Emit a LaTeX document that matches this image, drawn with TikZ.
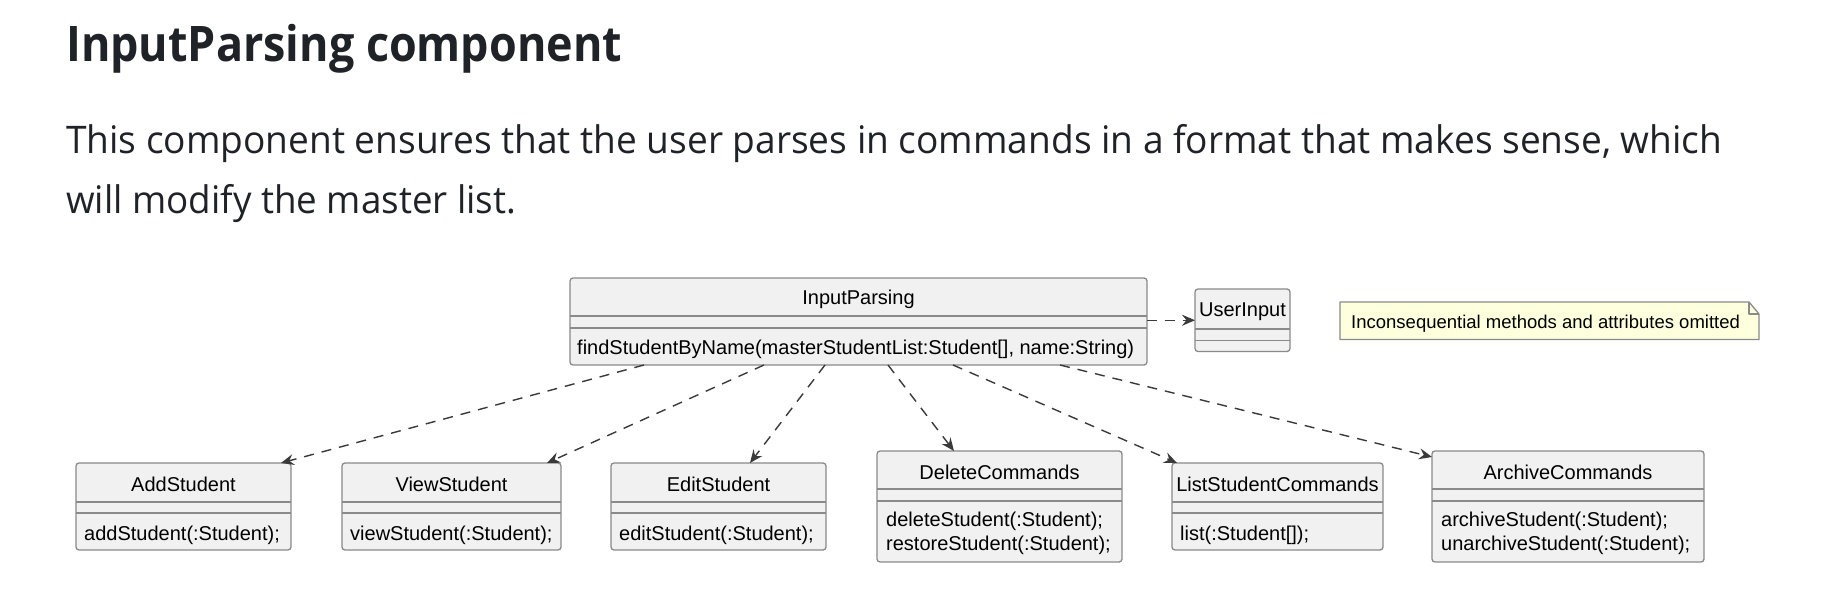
\documentclass[tikz,border=0pt]{standalone}
\usepackage{fontspec}
\setmainfont{Liberation Sans}
\newfontfamily\webfont{Open Sans}
\usetikzlibrary{arrows.meta,calc}
\definecolor{boxfill}{HTML}{F1F1F1}
\definecolor{boxline}{HTML}{8A8A8A}
\definecolor{notefill}{HTML}{FEFFDD}
\definecolor{linkcol}{HTML}{3A3A3A}
\definecolor{textcol}{HTML}{1F2328}
\begin{document}
\begin{tikzpicture}[x=1pt,y=-1pt,
  clsbox/.style={draw=boxline, fill=boxfill, line width=1.3pt, rounded corners=3pt, inner sep=0pt, outer sep=0pt, anchor=north west},
  sepline/.style={draw=boxline, line width=1.3pt},
  umltext/.style={font=\fontsize{20}{22}\selectfont, inner sep=0pt, text=black},
  notetext/.style={font=\fontsize{18.5}{21}\selectfont, inner sep=0pt, text=black},
  dep/.style={draw=linkcol, line width=1.4pt, dash pattern=on 10pt off 8pt, -{Stealth[length=13pt,width=11pt,inset=4.5pt]}},
  webtext/.style={inner sep=0pt, text=textcol, anchor=base west}
]
\fill[white] (0,0) rectangle (1829,612);
\useasboundingbox (0,0) rectangle (1829,612);

% heading and paragraph
\node[webtext] (title) at (66,62) {\resizebox{556pt}{\height}{\webfont\bfseries\fontsize{49}{55}\selectfont InputParsing component}};
\node[webtext] (para1) at (66,154) {\resizebox{1656pt}{\height}{\webfont\fontsize{38}{44}\selectfont This component ensures that the user parses in commands in a format that makes sense, which}};
\node[webtext] (para2) at (66,213.5) {\resizebox{450pt}{\height}{\webfont\fontsize{38}{44}\selectfont will modify the master list.}};

% InputParsing
\node[clsbox, minimum width=577pt, minimum height=87pt] (ip) at (570,278) {};
\draw[sepline] ($(ip.north west)+(0,38)$) -- ($(ip.north east)+(0,38)$);
\draw[sepline] ($(ip.north west)+(0,50)$) -- ($(ip.north east)+(0,50)$);
\node[umltext, anchor=base] (ipT) at ($(ip.north)+(0,26.5)$) {InputParsing};
\node[umltext, anchor=base west] (ipM) at ($(ip.north west)+(7,77)$) {findStudentByName(masterStudentList:Student[], name:String)};

% UserInput
\node[clsbox, minimum width=95pt, minimum height=62.5pt] (ui) at (1195,289) {};
\draw[sepline] ($(ui.north west)+(0,40)$) -- ($(ui.north east)+(0,40)$);
\draw[sepline] ($(ui.north west)+(0,51.5)$) -- ($(ui.north east)+(0,51.5)$);
\node[umltext, anchor=base] (uiT) at ($(ui.north)+(0,28)$) {UserInput};

% note
\node[anchor=north west, minimum width=419pt, minimum height=37.5pt, inner sep=0pt, outer sep=0pt] (note) at (1340,302) {};
\draw[draw=boxline, fill=notefill, line width=1.3pt, line join=round]
  (note.north west) -- ($(note.north east)+(-10,0)$) -- ($(note.north east)+(0,12)$) -- (note.south east) -- (note.south west) -- cycle;
\draw[draw=boxline, line width=1.3pt, line join=round]
  ($(note.north east)+(-10,0)$) -- ($(note.north east)+(-10,12)$) -- ($(note.north east)+(0,12)$);
\node[notetext, anchor=base west] (noteT) at ($(note.north west)+(11,26.3)$) {Inconsequential methods and attributes omitted};

% AddStudent
\node[clsbox, minimum width=215pt, minimum height=87pt] (add) at (76,463) {};
\draw[sepline] ($(add.north west)+(0,39)$) -- ($(add.north east)+(0,39)$);
\draw[sepline] ($(add.north west)+(0,50)$) -- ($(add.north east)+(0,50)$);
\node[umltext, anchor=base] (addT) at ($(add.north)+(0,28.5)$) {AddStudent};
\node[umltext, anchor=base west] (addM) at ($(add.north west)+(8,77)$) {addStudent(:Student);};

% ViewStudent
\node[clsbox, minimum width=219pt, minimum height=87pt] (view) at (342,463) {};
\draw[sepline] ($(view.north west)+(0,39)$) -- ($(view.north east)+(0,39)$);
\draw[sepline] ($(view.north west)+(0,50)$) -- ($(view.north east)+(0,50)$);
\node[umltext, anchor=base] (viewT) at ($(view.north)+(0,28.5)$) {ViewStudent};
\node[umltext, anchor=base west] (viewM) at ($(view.north west)+(8,77)$) {viewStudent(:Student);};

% EditStudent
\node[clsbox, minimum width=215pt, minimum height=87pt] (edit) at (611,463) {};
\draw[sepline] ($(edit.north west)+(0,39)$) -- ($(edit.north east)+(0,39)$);
\draw[sepline] ($(edit.north west)+(0,50)$) -- ($(edit.north east)+(0,50)$);
\node[umltext, anchor=base] (editT) at ($(edit.north)+(0,28.5)$) {EditStudent};
\node[umltext, anchor=base west] (editM) at ($(edit.north west)+(8,77)$) {editStudent(:Student);};

% DeleteCommands
\node[clsbox, minimum width=245pt, minimum height=111pt] (del) at (877,451) {};
\draw[sepline] ($(del.north west)+(0,38)$) -- ($(del.north east)+(0,38)$);
\draw[sepline] ($(del.north west)+(0,50)$) -- ($(del.north east)+(0,50)$);
\node[umltext, anchor=base] (delT) at ($(del.north)+(0,28)$) {DeleteCommands};
\node[umltext, anchor=base west] (delM1) at ($(del.north west)+(9,75.5)$) {deleteStudent(:Student);};
\node[umltext, anchor=base west] (delM2) at ($(del.north west)+(9,99)$) {restoreStudent(:Student);};

% ListStudentCommands
\node[clsbox, minimum width=211pt, minimum height=87pt] (list) at (1172,463) {};
\draw[sepline] ($(list.north west)+(0,39)$) -- ($(list.north east)+(0,39)$);
\draw[sepline] ($(list.north west)+(0,50)$) -- ($(list.north east)+(0,50)$);
\node[umltext, anchor=base] (listT) at ($(list.north)+(0,28.5)$) {ListStudentCommands};
\node[umltext, anchor=base west] (listM) at ($(list.north west)+(8,77)$) {list(:Student[]);};

% ArchiveCommands
\node[clsbox, minimum width=272pt, minimum height=111pt] (arch) at (1432,451) {};
\draw[sepline] ($(arch.north west)+(0,38)$) -- ($(arch.north east)+(0,38)$);
\draw[sepline] ($(arch.north west)+(0,50)$) -- ($(arch.north east)+(0,50)$);
\node[umltext, anchor=base] (archT) at ($(arch.north)+(0,28)$) {ArchiveCommands};
\node[umltext, anchor=base west] (archM1) at ($(arch.north west)+(9,75.5)$) {archiveStudent(:Student);};
\node[umltext, anchor=base west] (archM2) at ($(arch.north west)+(9,99)$) {unarchiveStudent(:Student);};

% dependencies
\draw[dep] (ui.west -| ip.east) -- (ui.west);
\draw[dep] ($(ip.south west)+(74,0)$) -- ($(add.north east)+(-10,0)$);
\draw[dep] ($(ip.south west)+(194,0)$) -- ($(view.north east)+(-14,0)$);
\draw[dep] ($(ip.south west)+(255,0)$) -- ($(edit.north west)+(139,0)$);
\draw[dep] ($(ip.south west)+(318,0)$) -- ($(del.north west)+(77,0)$);
\draw[dep] ($(ip.south west)+(383,0)$) -- ($(list.north west)+(5,0)$);
\draw[dep] ($(ip.south west)+(490,0)$) -- ($(arch.north west)+(0,6)$);
\end{tikzpicture}
\end{document}
